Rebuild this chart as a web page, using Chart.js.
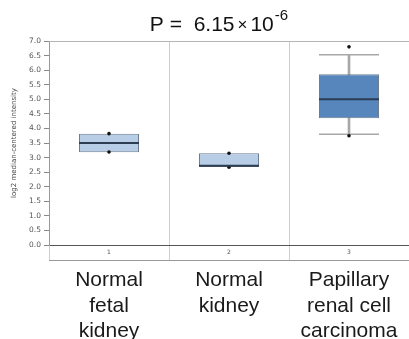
<!DOCTYPE html>
<html>
<head>
<meta charset="utf-8">
<script src="https://cdn.jsdelivr.net/npm/chart.js@4"></script>
<style>
  body { margin: 0; background: #fff; }
  #wrap { width: 409px; height: 339px; }
</style>
</head>
<body>
<div id="wrap"><canvas id="myChart"></canvas></div>
<script>
// box plot values
const groups = ["1", "2", "3"];
const groupNames = [
  ["Normal", "fetal", "kidney"],
  ["Normal", "kidney"],
  ["Papillary", "renal cell", "carcinoma"],
];
const q1 = [3.18, 2.68, 4.35];
const q3 = [3.82, 3.15, 5.86];
const medians = [3.5, 2.72, 5.0];
const whiskerLow = [null, null, 3.8];
const whiskerHigh = [null, null, 6.53];
const pointHigh = [3.82, 3.15, 6.8];
const pointLow = [3.19, 2.67, 3.75];
const yTicks = [0, 0.5, 1, 1.5, 2, 2.5, 3, 3.5, 4, 4.5, 5, 5.5, 6, 6.5, 7];

// frame lines + P value title
const framePlugin = {
  id: "frame",
  afterDraw(chart) {
    const { ctx, chartArea } = chart;
    ctx.save();
    ctx.strokeStyle = "#b5b5b5";
    ctx.lineWidth = 1;
    ctx.beginPath();
    ctx.moveTo(chartArea.left, chartArea.top + 0.5);
    ctx.lineTo(chartArea.right, chartArea.top + 0.5);
    ctx.stroke();
    ctx.strokeStyle = "#999";
    ctx.beginPath();
    ctx.moveTo(chartArea.left, chartArea.bottom + 15.5);
    ctx.lineTo(chartArea.right, chartArea.bottom + 15.5);
    ctx.stroke();

    // title  P = 6.15 x 10^-6
    const fam = "'Liberation Sans', Arial, sans-serif";
    const parts = [
      { t: "P =  6.15", f: "21px " + fam, dy: 0, gap: 3 },
      { t: "\u00d7", f: "17px " + fam, dy: -1, gap: 3 },
      { t: "10", f: "21px " + fam, dy: 0, gap: 1 },
      { t: "-6", f: "15px " + fam, dy: -11, gap: 0 },
    ];
    let total = 0;
    parts.forEach((p) => {
      ctx.font = p.f;
      p.w = ctx.measureText(p.t).width;
      total += p.w + p.gap;
    });
    let x = 219 - total / 2;
    ctx.fillStyle = "#111";
    ctx.textBaseline = "alphabetic";
    parts.forEach((p) => {
      ctx.font = p.f;
      ctx.fillText(p.t, x, 30.5 + p.dy);
      x += p.w + p.gap;
    });
    ctx.restore();
  },
};

const ctx = document.getElementById("myChart").getContext("2d");
const myChart = new Chart(ctx, {
  data: {
    labels: groups,
    datasets: [
      {
        type: "line",
        label: "median",
        data: medians,
        showLine: false,
        pointStyle: "line",
        pointRadius: 30,
        pointHoverRadius: 30,
        pointBorderWidth: 2,
        pointBorderColor: "#2c3d52",
        order: 0,
      },
      {
        type: "line",
        label: "high",
        data: pointHigh,
        showLine: false,
        pointRadius: 1.8,
        pointBackgroundColor: "#111",
        pointBorderColor: "#111",
        pointBorderWidth: 0,
        order: 0,
      },
      {
        type: "line",
        label: "low",
        data: pointLow,
        showLine: false,
        pointRadius: 1.8,
        pointBackgroundColor: "#111",
        pointBorderColor: "#111",
        pointBorderWidth: 0,
        order: 0,
      },
      {
        type: "bar",
        label: "box",
        data: q1.map((v, i) => [v, q3[i]]),
        backgroundColor: ["#b8cee6", "#b8cee6", "#5686bc"],
        borderColor: "#6e7e90",
        borderWidth: 1,
        borderSkipped: false,
        grouped: false,
        barPercentage: 0.5,
        categoryPercentage: 1,
        order: 1,
      },
      {
        type: "line",
        label: "capHigh",
        data: whiskerHigh,
        showLine: false,
        pointStyle: "line",
        pointRadius: 30,
        pointBorderWidth: 1.5,
        pointBorderColor: "#a8a8a8",
        order: 2,
      },
      {
        type: "line",
        label: "capLow",
        data: whiskerLow,
        showLine: false,
        pointStyle: "line",
        pointRadius: 30,
        pointBorderWidth: 1.5,
        pointBorderColor: "#a8a8a8",
        order: 2,
      },
      {
        type: "bar",
        label: "whisker",
        data: whiskerLow.map((v, i) => (v === null ? null : [v, whiskerHigh[i]])),
        backgroundColor: "#a8a8a8",
        barThickness: 2,
        grouped: false,
        order: 3,
      },
    ],
  },
  options: {
    responsive: true,
    maintainAspectRatio: false,
    animation: false,
    layout: { autoPadding: false, padding: { top: 41, right: 0, bottom: 0, left: 0 } },
    plugins: {
      legend: { display: false },
      tooltip: { enabled: false },
      title: { display: false },
    },
    scales: {
      x: {
        type: "category",
        position: "bottom",
        weight: 0,
        offset: true,
        grid: {
          offset: true,
          drawOnChartArea: true,
          drawTicks: true,
          tickLength: 15,
          color: "#cfcfcf",
        },
        border: { display: true, color: "#555", width: 1 },
        ticks: {
          padding: -11,
          color: "#555",
          font: { family: "'DejaVu Sans'", size: 6 },
        },
        afterFit(scale) {
          scale.height = 15;
          scale.paddingLeft = 0;
          scale.paddingRight = 0;
        },
      },
      x2: {
        type: "category",
        position: "bottom",
        weight: 1,
        offset: true,
        labels: groupNames,
        grid: { display: false, drawTicks: false },
        border: { display: false },
        ticks: {
          padding: 8,
          color: "#1a1a1a",
          font: { family: "'Liberation Sans', Arial, sans-serif", size: 21, lineHeight: 1.2 },
        },
        afterFit(scale) {
          scale.height = 79;
          scale.paddingLeft = 0;
          scale.paddingRight = 0;
        },
      },
      y: {
        min: 0,
        max: 7,
        afterBuildTicks(scale) {
          scale.ticks = yTicks.map((v) => ({ value: v }));
        },
        grid: {
          drawOnChartArea: false,
          drawTicks: true,
          tickLength: 5,
          color: "#888",
        },
        border: { display: true, color: "#999", width: 1 },
        ticks: {
          padding: 3,
          color: "#555",
          font: { family: "'DejaVu Sans'", size: 7.5 },
          callback: (v) => Number(v).toFixed(1),
        },
        title: {
          display: true,
          text: "log2 median-centered intensity",
          color: "#444",
          font: { family: "'DejaVu Sans'", size: 7 },
          padding: { top: 10, bottom: 0 },
        },
        afterFit(scale) {
          scale.width = 49;
          scale.paddingTop = 0;
          scale.paddingBottom = 0;
        },
      },
    },
  },
  plugins: [framePlugin],
});
</script>
</body>
</html>
